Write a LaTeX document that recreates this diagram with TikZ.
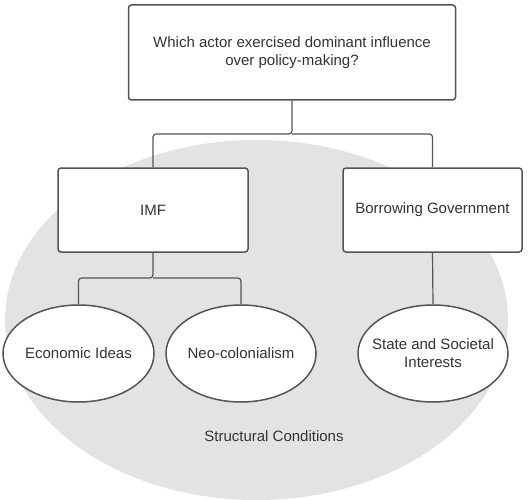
\documentclass[tikz,border=0pt]{standalone}
\usepackage{fontspec}
\setmainfont{Liberation Sans}
\usetikzlibrary{shapes.geometric}
\definecolor{edge}{HTML}{555555}
\definecolor{txt}{HTML}{333333}
\definecolor{bg}{HTML}{E3E3E3}
\begin{document}
\begin{tikzpicture}[x=1pt,y=-1pt,
  every node/.style={font=\fontsize{15}{18}\selectfont, text=txt},
  boxnode/.style={draw=edge, line width=1.5pt, fill=white, rounded corners=3pt, inner sep=0pt, align=center},
  ovalnode/.style={draw=edge, line width=1.5pt, fill=white, ellipse, inner sep=-10pt, align=center},
  link/.style={draw=edge, line width=1.2pt, rounded corners=3pt}]
\useasboundingbox (0,0) rectangle (530,500);
\fill[bg] (256.5,320) ellipse [x radius=251.5, y radius=180];
\node[boxnode, minimum width=327pt, minimum height=95pt] (q) at (292,52.5) {Which actor exercised dominant influence\\over policy-making?};
\node[boxnode, minimum width=190pt, minimum height=84pt] (imf) at (153,210) {IMF};
\node[boxnode, minimum width=179pt, minimum height=84pt] (bg) at (432.5,210) {Borrowing Government};
\node[ovalnode, minimum width=151pt, minimum height=97pt] (ei) at (78.5,353.5) {Economic Ideas};
\node[ovalnode, minimum width=150pt, minimum height=97pt] (nc) at (241,353.5) {Neo-colonialism};
\node[ovalnode, minimum width=150pt, minimum height=97pt] (ss) at (433,353.5) {State and Societal\\Interests};
\node (sc) at (274,436) {Structural Conditions};
\coordinate (j1) at (292,134);
\coordinate (j2) at (153,278);
\draw[link] (q.south) -- (j1) -| (imf.north);
\draw[link] (j1) -| (bg.north);
\draw[link] (imf.south) -- (j2) -| (ei.north);
\draw[link] (j2) -| (nc.north);
\draw[link] (bg.south) -- (ss.north);
\end{tikzpicture}
\end{document}
